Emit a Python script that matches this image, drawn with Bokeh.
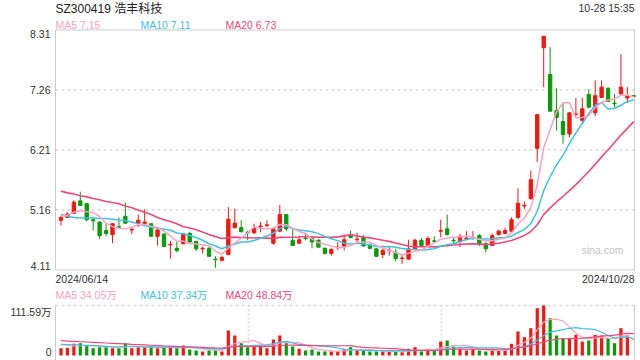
import numpy as np
import pandas as pd
from bokeh.plotting import figure
from bokeh.models import Range1d, Label, ColumnDataSource
from bokeh.embed import file_html
from bokeh.resources import INLINE

# ---------------- data ----------------
stock_title = "SZ300419 浩丰科技"
timestamp = "10-28 15:35"
start_date = "2024/06/14"
end_date = "2024/10/28"
price_ticks = [4.11, 5.16, 6.21, 7.26, 8.31]
price_tick_labels = ["4.11", "5.16", "6.21", "7.26", "8.31"]
vol_top_value = 111.59
vol_tick_labels = ["111.59万", "0"]
price_ma_labels = ["MA5 7.15", "MA10 7.11", "MA20 6.73"]
vol_ma_labels = ["MA5 34.05万", "MA10 37.34万", "MA20 48.84万"]

opens = [4.98, 5.03, 5.10, 5.32, 5.27, 4.99, 4.95, 4.80, 4.73, 4.87,
         5.05, 4.81, 4.92, 4.92, 4.92, 4.70, 4.74, 4.55, 4.49, 4.57,
         4.75, 4.61, 4.48, 4.49, 4.30, 4.28, 4.38, 4.85, 4.85, 4.77,
         4.76, 4.87, 4.89, 4.58, 4.79, 5.08, 4.63, 4.58, 4.67, 4.67,
         4.63, 4.49, 4.40, 4.50, 4.53, 4.73, 4.64, 4.68, 4.55, 4.48,
         4.38, 4.45, 4.42, 4.31, 4.30, 4.48, 4.63, 4.54, 4.62, 4.79,
         4.83, 4.63, 4.61, 4.66, 4.67, 4.71, 4.57, 4.54, 4.73, 4.75,
         4.79, 5.03, 5.23, 5.36, 6.24, 8.00, 7.53, 6.90, 6.71, 6.49,
         6.83, 6.73, 7.18, 6.86, 7.13, 7.29, 7.03, 7.19, 7.12, 7.16]
highs = [5.06, 5.12, 5.33, 5.48, 5.28, 5.04, 4.96, 4.92, 4.93, 5.03,
         5.29, 4.86, 5.08, 5.17, 4.93, 4.86, 4.75, 4.62, 4.60, 4.75,
         4.78, 4.62, 4.52, 4.51, 4.35, 4.36, 5.21, 5.18, 4.98, 4.80,
         4.92, 4.95, 4.98, 4.85, 5.25, 5.08, 4.83, 4.71, 4.76, 4.68,
         4.65, 4.50, 4.49, 4.60, 4.73, 4.80, 4.76, 4.72, 4.58, 4.49,
         4.54, 4.51, 4.48, 4.39, 4.64, 4.66, 4.67, 4.70, 4.70, 4.99,
         5.08, 4.68, 4.74, 4.79, 4.79, 4.74, 4.60, 4.75, 4.82, 4.85,
         5.03, 5.54, 5.31, 5.85, 6.83, 8.20, 8.01, 7.29, 7.02, 6.87,
         7.12, 7.12, 7.27, 7.43, 7.43, 7.31, 7.19, 7.89, 7.31, 7.16]
lows = [4.89, 5.02, 5.09, 5.23, 4.96, 4.80, 4.65, 4.70, 4.58, 4.85,
        4.92, 4.74, 4.86, 4.89, 4.70, 4.54, 4.51, 4.31, 4.42, 4.56,
        4.59, 4.44, 4.40, 4.35, 4.15, 4.26, 4.38, 4.84, 4.77, 4.63,
        4.74, 4.77, 4.86, 4.55, 4.77, 4.79, 4.54, 4.57, 4.63, 4.49,
        4.51, 4.38, 4.36, 4.46, 4.45, 4.67, 4.57, 4.52, 4.47, 4.34,
        4.32, 4.36, 4.26, 4.22, 4.29, 4.46, 4.52, 4.54, 4.58, 4.68,
        4.71, 4.57, 4.51, 4.63, 4.64, 4.53, 4.42, 4.53, 4.71, 4.74,
        4.77, 5.00, 5.18, 5.34, 6.00, 7.31, 6.88, 6.55, 6.32, 6.43,
        6.80, 6.67, 6.94, 6.80, 7.12, 7.05, 6.96, 7.18, 7.03, 7.14]
closes = [5.03, 5.09, 5.30, 5.24, 4.99, 4.97, 4.71, 4.75, 4.92, 4.86,
          4.93, 4.82, 4.98, 4.95, 4.70, 4.81, 4.52, 4.56, 4.45, 4.74,
          4.60, 4.48, 4.49, 4.35, 4.29, 4.33, 5.00, 4.93, 4.78, 4.76,
          4.84, 4.88, 4.90, 4.83, 5.08, 4.83, 4.54, 4.64, 4.66, 4.60,
          4.51, 4.40, 4.47, 4.51, 4.64, 4.68, 4.65, 4.53, 4.49, 4.35,
          4.45, 4.46, 4.31, 4.32, 4.48, 4.63, 4.54, 4.66, 4.61, 4.80,
          4.73, 4.62, 4.70, 4.67, 4.68, 4.57, 4.48, 4.71, 4.79, 4.80,
          4.99, 5.28, 5.24, 5.69, 6.83, 8.20, 6.89, 6.78, 6.48, 6.86,
          6.84, 6.93, 6.96, 7.16, 7.31, 7.06, 7.02, 7.31, 7.15, 7.15]
volumes = [16.4, 17.1, 26.0, 27.5, 22.3, 16.4, 18.6, 18.6, 16.4, 16.4,
           27.5, 16.4, 18.6, 18.6, 20.1, 16.4, 18.6, 18.6, 16.4, 22.3,
           13.4, 11.2, 8.9, 11.2, 12.6, 8.9, 55.8, 44.6, 27.5, 18.6,
           22.3, 22.3, 16.4, 35.7, 44.6, 27.5, 20.1, 14.9, 11.2, 13.4,
           8.9, 8.9, 8.9, 8.9, 14.9, 18.6, 11.2, 11.2, 8.9, 8.9,
           8.9, 8.9, 8.9, 7.4, 14.9, 18.6, 8.9, 14.9, 11.2, 31.2,
           33.5, 20.1, 14.9, 11.2, 14.9, 11.2, 8.9, 11.2, 11.2, 13.4,
           26.0, 53.6, 40.9, 61.0, 105.6, 111.59, 83.3, 44.6, 38.7, 38.7,
           46.1, 31.2, 33.5, 46.1, 44.6, 38.7, 27.5, 61.0, 44.6, 0.0]

# moving-average values at the start of the window
ma5_head = [5.05, 5.07, 5.12, 5.15]
ma10_head = [5.08, 5.05, 5.03, 5.02, 5.02, 5.02, 5.01, 5.01, 5.00]
ma20_head = [5.49, 5.46, 5.44, 5.41, 5.39, 5.36, 5.34, 5.31, 5.29, 5.27,
             5.23, 5.20, 5.16, 5.12, 5.08, 5.03, 4.99, 4.96, 4.92]
vma5_head = [24.0, 22.5, 21.5, 21.8]
vma10_head = [25.0, 24.5, 24.0, 23.0, 22.5, 22.0, 21.0, 20.5, 20.0]
vma20_head = [33.0, 32.3, 31.6, 30.8, 30.1, 29.4, 28.6, 27.9, 27.2, 26.5,
              25.8, 25.0, 24.3, 23.6, 22.9, 22.2, 21.5, 20.9, 20.2]

# ---------------- style / layout ----------------
W, H = 640, 360
PANEL_L, PANEL_R = 55, 634          # px
PRICE_T, PRICE_B = 29.5, 269.5      # px
VOL_T, VOL_B = 305, 355             # px
SLOT = 6.436                        # px per trading day
FIRST_X = 60.5                      # px centre of first candle

RED = "#f01810"
GREEN = "#0a990a"
C_MA5 = "#f7a3c2"
C_MA10 = "#3fc2e2"
C_MA20 = "#ea4a7e"
TXT = "#333333"
BORDER = "#cccccc"
GRID = "#d9d9d9"
FONT = "Liberation Sans, Noto Sans CJK SC"


def moving(arr, n, head):
    out = pd.Series(arr, dtype=float).rolling(n).mean().to_numpy()
    out[:n - 1] = head
    return out


idx = np.arange(len(closes))
o = np.array(opens); c = np.array(closes)
colors = [RED if cc > oo else GREEN for oo, cc in zip(o, c)]

src = ColumnDataSource(dict(
    x=idx, high=highs, low=lows,
    top=np.maximum(o, c), bottom=np.minimum(o, c),
    vol=volumes, color=colors,
    ma5=moving(closes, 5, ma5_head), ma10=moving(closes, 10, ma10_head),
    ma20=moving(closes, 20, ma20_head),
    vma5=moving(volumes, 5, vma5_head), vma10=moving(volumes, 10, vma10_head),
    vma20=moving(volumes, 20, vma20_head),
))

# scales: whole canvas is the frame; price and volume share it via two y ranges
p_lo, p_hi = price_ticks[0], price_ticks[-1]
pslope = (p_hi - p_lo) / (PRICE_B - PRICE_T)
price_range = Range1d(p_lo - (H - PRICE_B) * pslope, p_hi + PRICE_T * pslope)
vslope = vol_top_value / (VOL_B - VOL_T)
vol_range = Range1d(-(H - VOL_B) * vslope, vol_top_value + VOL_T * vslope)
x_range = Range1d(-FIRST_X / SLOT, (W - FIRST_X) / SLOT)


def xd(px):
    return (px - FIRST_X) / SLOT


def yd(py):
    return price_range.end - py * pslope


x_left, x_right = xd(PANEL_L), xd(PANEL_R)

p = figure(width=W, height=H, x_range=x_range, y_range=price_range,
           x_axis_type=None, y_axis_type=None, min_border=0,
           toolbar_location=None, output_backend="svg")
p.extra_y_ranges = {"vol": vol_range}
p.outline_line_color = None
p.background_fill_color = "white"
p.border_fill_color = "white"

# price panel grid + border
mid = price_ticks[1:-1]
p.segment(x0=[x_left] * len(mid), x1=[x_right] * len(mid), y0=mid, y1=mid,
          line_color=GRID, line_width=1.5, line_dash="3 3")
p.quad(left=[x_left], right=[x_right], bottom=[p_lo], top=[p_hi],
       fill_color=None, line_color=BORDER, line_width=1)

# volume panel frame
third = (x_right - x_left) / 3
vx = [x_left + third, x_left + 2 * third]
p.segment(x0=vx, x1=vx, y0=[vol_top_value] * 2, y1=[vol_range.start] * 2,
          line_color=GRID, line_width=1.5, line_dash="2 2", y_range_name="vol")
p.segment(x0=[x_left], x1=[x_right], y0=[vol_top_value], y1=[vol_top_value],
          line_color=GRID, line_width=1.5, line_dash="3 3", y_range_name="vol")
p.segment(x0=[x_left, x_right], x1=[x_left, x_right], y0=[vol_top_value] * 2,
          y1=[vol_range.start] * 2, line_color=BORDER, line_width=1, y_range_name="vol")

# watermark
p.add_layout(Label(x=xd(623), y=yd(249), text="sina.com", text_align="right",
                   text_baseline="middle", text_font=FONT, text_font_size="10.5px",
                   text_color="#c4c4c4"))

# candles
p.segment(x0="x", y0="high", x1="x", y1="low", line_color="color", line_width=1, source=src)
p.vbar(x="x", width=0.52, top="top", bottom="bottom", fill_color="color",
       line_color="color", line_width=1, source=src)

# price MAs
p.line("x", "ma20", line_color=C_MA20, line_width=1.6, source=src)
p.line("x", "ma10", line_color=C_MA10, line_width=1.5, source=src)
p.line("x", "ma5", line_color=C_MA5, line_width=1.5, source=src)

# volume bars and MAs
p.vbar(x="x", width=0.5, top="vol", bottom=0, fill_color="color", line_color=None,
       source=src, y_range_name="vol")
p.line("x", "vma5", line_color=C_MA5, line_width=1.2, source=src, y_range_name="vol")
p.line("x", "vma10", line_color=C_MA10, line_width=1.2, source=src, y_range_name="vol")
p.line("x", "vma20", line_color=C_MA20, line_width=1.2, source=src, y_range_name="vol")

# texts


def lab(x, y, text, color=TXT, size="10.5px", align="left", baseline="middle",
        xo=0, rn="default"):
    p.add_layout(Label(x=x, y=y, text=text, text_color=color, text_font=FONT,
                       text_font_size=size, text_align=align,
                       text_baseline=baseline, x_offset=xo, y_range_name=rn))


lab(x_left, yd(8), stock_title, color="#222222", size="12px")
lab(x_right, yd(7.5), timestamp, align="right")
for t, col, px in zip(price_ma_labels, [C_MA5, C_MA10, C_MA20], [55, 140, 225]):
    lab(xd(px), yd(24.5), t, color=col)
for t, col, px in zip(vol_ma_labels, [C_MA5, C_MA10, C_MA20], [55, 140, 225]):
    lab(xd(px), yd(294.5), t, color=col)

for v, t in zip(price_ticks, price_tick_labels):
    base = "top" if v == p_hi else ("bottom" if v == p_lo else "middle")
    lab(x_left, v, t, align="right", baseline=base, xo=-5)
lab(x_left, vol_top_value, vol_tick_labels[0], align="right", baseline="top", xo=-4, rn="vol")
lab(x_left, 0, vol_tick_labels[1], align="right", baseline="bottom", xo=-4, rn="vol")

lab(x_left, yd(278), start_date)
lab(x_right, yd(278), end_date, align="right")

open("out.html", "w").write(file_html(p, INLINE))
